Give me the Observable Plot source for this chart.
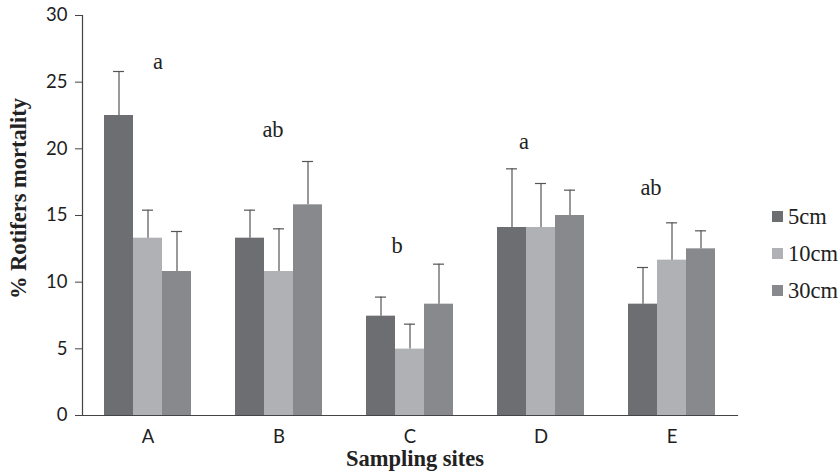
<!DOCTYPE html>
<html>
<head>
<meta charset="utf-8">
<script src="https://cdn.jsdelivr.net/npm/d3@7"></script>
<script src="https://cdn.jsdelivr.net/npm/@observablehq/plot@0.6"></script>
<style>
  html, body { margin: 0; padding: 0; background: #fff; }
  #wrap { position: relative; width: 840px; height: 475px; }
  #legend { position: absolute; left: 772px; top: 198px; font-family: "Liberation Serif", "Times New Roman", serif; font-size: 22.5px; color: #222; }
  #legend .row { display: flex; align-items: center; height: 37px; }
  #legend .sw { width: 11px; height: 11px; margin-right: 5px; }
</style>
</head>
<body>
<div id="wrap"><div id="legend"></div></div>
<script>
// Data
const sites = ["A", "B", "C", "D", "E"];
const depths = ["5cm", "10cm", "30cm"];
const mean5  = [22.5, 13.3, 7.45, 14.1, 8.35];
const mean10 = [13.3, 10.8, 4.98, 14.1, 11.65];
const mean30 = [10.8, 15.8, 8.35, 15.0, 12.5];
const top5   = [25.8, 15.4, 8.88, 18.5, 11.1];
const top10  = [15.4, 14.0, 6.85, 17.4, 14.45];
const top30  = [13.8, 19.05, 11.35, 16.9, 13.85];
const letters = ["a", "ab", "b", "a", "ab"];
const letterY = [26.5, 21.45, 12.7, 20.5, 17.1];
const letterDx = [10, -6, -13, -17, -21];
const colors = ["#6d6e72", "#b0b1b4", "#88898c"];

const means = [mean5, mean10, mean30];
const tops = [top5, top10, top30];
const rows = [];
sites.forEach((s, i) => depths.forEach((d, j) => rows.push({site: s, depth: d, value: means[j][i], top: tops[j][i]})));

const serif = "'Liberation Serif', 'Times New Roman', serif";
const sans = "Lato, 'Open Sans', sans-serif";

const chart = Plot.plot({
  width: 840,
  height: 475,
  marginLeft: 82,
  marginRight: 102,
  marginTop: 15,
  marginBottom: 60,
  style: {fontFamily: sans, fontSize: "18px", color: "#1e1e1e", background: "transparent"},
  fx: {domain: sites, paddingInner: 0.335, paddingOuter: 0.1675, label: null},
  x: {domain: depths, padding: 0, axis: null},
  y: {domain: [0, 30], ticks: [0, 5, 10, 15, 20, 25, 30], label: null},
  color: {domain: depths, range: colors},
  marks: [
    Plot.axisY({ticks: [0, 5, 10, 15, 20, 25, 30], tickSize: 7, tickPadding: 8, stroke: "#444", label: null, fontSize: 18.5, dx: -22}),
    Plot.axisFx({anchor: "bottom", tickSize: 0, tickPadding: 14, label: null, fontSize: 18.5}),
    Plot.barY(rows, {fx: "site", x: "depth", y: "value", fill: "depth"}),
    Plot.ruleX(rows, {fx: "site", x: "depth", y1: "value", y2: "top", stroke: "#555", strokeWidth: 1.2}),
    Plot.tickY(rows, {fx: "site", x: "depth", y: "top", stroke: "#555", strokeWidth: 1.2, insetLeft: 9, insetRight: 9}),
    ...letters.map((l, i) => Plot.text([l], {fx: [sites[i]], y: [letterY[i]], text: (d) => d, dx: letterDx[i], fontFamily: serif, fontSize: 22.5, fill: "#222"})),
    Plot.frame({anchor: "bottom", facet: "super", stroke: "#444", strokeWidth: 1.2, insetLeft: -22, insetRight: -22}),
    Plot.frame({anchor: "left", facet: "super", stroke: "#444", strokeWidth: 1.2, dx: -22}),
    Plot.text(["% Rotifers mortality"], {facet: "super", frameAnchor: "left", textAnchor: "middle", rotate: -90, dx: -86, dy: -17, fontFamily: serif, fontWeight: "bold", fontSize: 22.5, fill: "#222"}),
    Plot.text(["Sampling sites"], {facet: "super", frameAnchor: "bottom", dx: 5, dy: 50, fontFamily: serif, fontWeight: "bold", fontSize: 22.5, fill: "#222"})
  ]
});
document.getElementById("wrap").prepend(chart);

const legend = document.getElementById("legend");
depths.forEach((d, j) => {
  const row = document.createElement("div");
  row.className = "row";
  const sw = document.createElement("div");
  sw.className = "sw";
  sw.style.background = colors[j];
  const lab = document.createElement("span");
  lab.textContent = d;
  row.append(sw, lab);
  legend.append(row);
});
</script>
</body>
</html>
